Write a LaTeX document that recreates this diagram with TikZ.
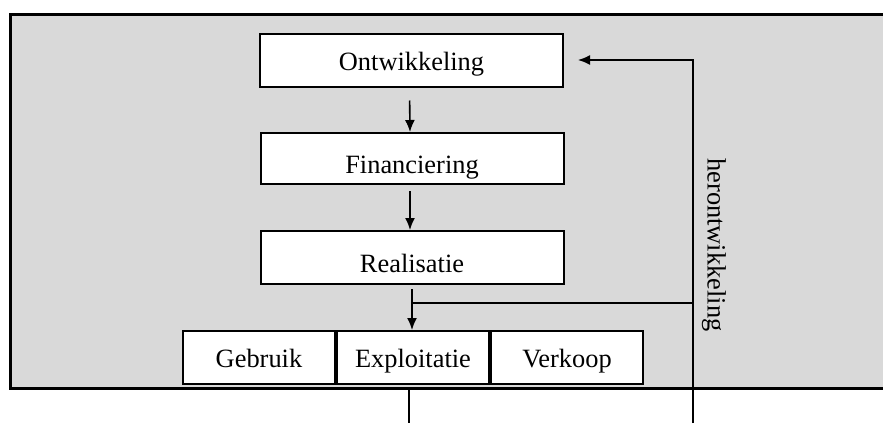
\documentclass[tikz,border=0pt]{standalone}
\usepackage{fontspec}
\setmainfont{Liberation Serif}
\usetikzlibrary{arrows.meta,positioning}
\definecolor{panelgray}{HTML}{D9D9D9}

\begin{document}
\begin{tikzpicture}[
  x=0.5pt, y=-0.5pt,
  every node/.style={font=\fontsize{13.2}{15}\selectfont},
  stagebox/.style={
    rectangle, draw=black, fill=white, line width=1pt,
    minimum width=151.5pt, minimum height=26.5pt, inner sep=0pt,
    text height=14.5pt, text depth=0pt
  },
  cellbox/.style={
    rectangle, draw=black, fill=white, line width=1pt,
    minimum width=76pt, minimum height=26.5pt, inner sep=0pt,
    text height=9.5pt, text depth=0pt
  },
  flowarrow/.style={
    line width=0.8pt, -{Latex[length=6pt,width=5pt]}
  },
  flowline/.style={
    line width=0.8pt
  },
]

\useasboundingbox (0,0) rectangle (883,423);

% --- Panel ---
\fill[panelgray] (10,14) rectangle (900,388);
\draw[line width=1.5pt] (900,14) -- (10,14) -- (10,388) -- (900,388);

% --- Nodes ---
\node[stagebox, text height=10pt] (ontw) at (411.5,60) {Ontwikkeling};
\node[stagebox, minimum height=25.5pt] (fin) at (412,158.5) {Financiering};
\node[stagebox] (real) at (412,257.5) {Realisatie};

\node[cellbox] (expl) at (413,357.5) {Exploitatie};
\node[cellbox, left=0pt of expl] (gebruik) {Gebruik};
\node[cellbox, right=0pt of expl] (verkoop) {Verkoop};

\coordinate (join) at (412,303);
\coordinate (loopbottom) at (693,423);
\coordinate (pagebottom) at (409,423);

% --- Arrows ---
\draw[flowarrow, shorten <=6.5pt] ([xshift=-1pt]ontw.south) -- ([xshift=-1pt]fin.north);
\draw[flowarrow, shorten <=3pt] ([xshift=-1pt]fin.south) -- ([xshift=-1pt]real.north);
\draw[flowarrow, shorten <=2pt] (real.south) -- (expl.north -| real.south);

% terugkoppeling
\draw[flowline] (join) -- (join -| loopbottom);
\draw[flowarrow, shorten >=7pt] (loopbottom) |- (ontw.east);
\node[rotate=-90] (heront) at (714,245) {herontwikkeling};

% uitgang onder
\draw[flowline, shorten <=2pt] (expl.south -| pagebottom) -- (pagebottom);

\end{tikzpicture}
\end{document}
